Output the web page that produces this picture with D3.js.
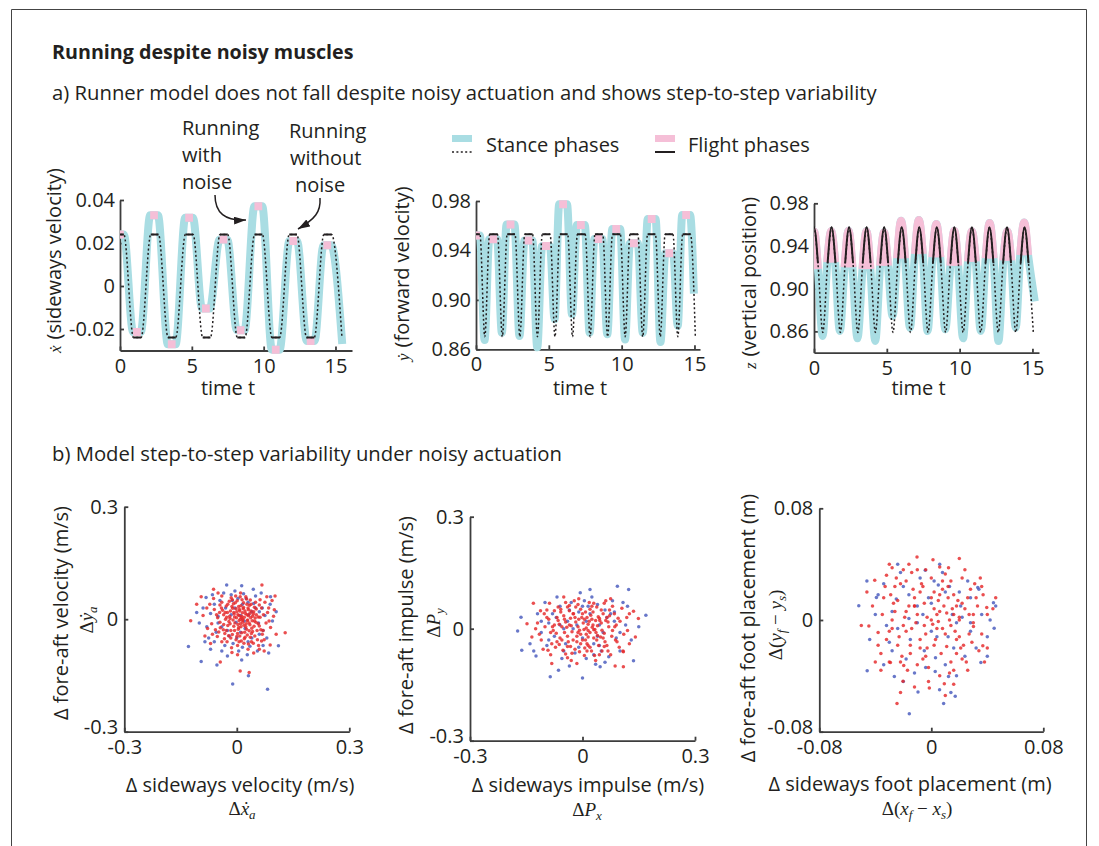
<!DOCTYPE html>
<html>
<head>
<meta charset="utf-8">
<script src="https://cdn.jsdelivr.net/npm/d3@7"></script>
<style>
  body { margin: 0; background: #fff; }
  svg text { font-family: "Open Sans", sans-serif; fill: #231f20; }
  .math { font-family: "Liberation Serif", "DejaVu Serif", serif; }
</style>
</head>
<body>
<svg id="fig" width="1099" height="846"></svg>
<script>
"use strict";

// ---- a) time series ----
// flight phase centres (time t)
const tFlightNoisy = [0, 1.18, 2.37, 3.6, 4.81, 5.98, 7.2, 8.4, 9.63, 10.84, 12.06, 13.27, 14.43];
const tFlightClean = [0, 1.205, 2.41, 3.615, 4.82, 6.025, 7.23, 8.435, 9.64, 10.845, 12.05, 13.255, 14.46];
const flightHalf = 0.27;   // half of a flight phase, in t

// sideways velocity x-dot (flight plateaus)
const xdNoisyFlight = [0.024, -0.0214, 0.0329, -0.0271, 0.0318, -0.0105, 0.0216, -0.0206, 0.0371, -0.0296, 0.0209, -0.0256, 0.0189];
const xdNoisyEnd = [15.47, -0.027];
const xdCleanFlight = [0.024, -0.024, 0.024, -0.024, 0.024, -0.024, 0.024, -0.024, 0.024, -0.024, 0.024, -0.024, 0.024];
const xdCleanEnd = [15.45, -0.024];

// forward velocity y-dot (flight plateaus, mid-stance minima)
const ydNoisyFlight = [0.952, 0.949, 0.961, 0.948, 0.9436, 0.9773, 0.9606, 0.9492, 0.9573, 0.9458, 0.9654, 0.9377, 0.9687];
const ydNoisyLow = [0.8675, 0.8735, 0.8708, 0.8616, 0.8843, 0.8883, 0.8734, 0.8721, 0.868, 0.8734, 0.8659, 0.8788];
const ydNoisyEnd = [14.96, 0.905];
const ydCleanFlight = [0.953, 0.953, 0.953, 0.953, 0.953, 0.953, 0.953, 0.953, 0.953, 0.953, 0.953, 0.953, 0.953];
const ydCleanLow = [0.8702, 0.8702, 0.8702, 0.8702, 0.8702, 0.8702, 0.8702, 0.8702, 0.8702, 0.8702, 0.8702, 0.8702];
const ydCleanEnd = [15.06, 0.8702];

// vertical position z (flight apex, take-off height, mid-stance minima)
const zNoisyPeak = [0.9538, 0.9538, 0.9543, 0.9538, 0.9528, 0.9637, 0.9643, 0.9606, 0.9543, 0.9538, 0.9615, 0.9538, 0.962];
const zNoisyBase = [0.9184, 0.9247, 0.92, 0.9184, 0.9215, 0.9284, 0.9325, 0.9294, 0.9215, 0.9253, 0.9284, 0.9262, 0.9315];
const zNoisyLow = [0.8556, 0.8603, 0.8535, 0.851, 0.8744, 0.8634, 0.8603, 0.8619, 0.8535, 0.8603, 0.851, 0.8634];
const zNoisyEnd = [15.16, 0.888];
const zCleanPeak = [0.9575, 0.9575, 0.9575, 0.9575, 0.9575, 0.9575, 0.9575, 0.9575, 0.9575, 0.9575, 0.9575, 0.9575, 0.9575];
const zCleanBase = [0.9238, 0.9238, 0.9238, 0.9238, 0.9238, 0.9238, 0.9238, 0.9238, 0.9238, 0.9238, 0.9238, 0.9238, 0.9238];
const zCleanLow = [0.859, 0.859, 0.859, 0.859, 0.859, 0.859, 0.859, 0.859, 0.859, 0.859, 0.859, 0.859];
const zCleanEnd = [15.06, 0.859];

const timeTicks = [0, 5, 10, 15];
const xdTicks = [-0.02, 0, 0.02, 0.04];
const xdTickLabels = ["-0.02", "0", "0.02", "0.04"];
const posTicks = [0.86, 0.90, 0.94, 0.98];
const posTickLabels = ["0.86", "0.90", "0.94", "0.98"];

// ---- b) step-to-step scatter ----
const velRed = [[0.012,0.004],[0.025,-0.012],[-0.008,0.018],[0.031,0.009],[-0.021,-0.006],[0.004,-0.027],[0.018,0.031],[-0.035,0.012],[0.046,-0.019],[0.009,0.000],[-0.012,-0.041],[0.038,0.022],[-0.028,0.035],[0.057,0.006],[0.001,0.049],[-0.044,-0.023],[0.022,-0.048],[0.015,0.017],[-0.005,-0.010],[0.033,-0.031],
  [0.064,-0.028],[-0.051,0.004],[0.007,0.026],[0.027,0.040],[-0.017,0.022],[0.041,-0.004],[-0.002,-0.055],[0.052,0.027],[-0.032,-0.038],[0.011,-0.020],[0.071,0.012],[-0.060,0.026],[0.019,-0.064],[-0.009,0.041],[0.036,0.051],[0.048,-0.045],[-0.024,-0.017],[0.003,0.012],[0.029,-0.002],[-0.040,0.045],
  [0.078,-0.010],[-0.015,0.057],[0.060,0.038],[-0.067,-0.012],[0.013,-0.036],[0.044,0.014],[-0.030,0.000],[0.024,0.060],[-0.006,-0.030],[0.055,-0.055],[0.085,0.030],[-0.052,-0.046],[0.005,0.034],[0.039,-0.060],[-0.019,0.008],[0.016,-0.008],[-0.038,0.024],[0.068,-0.040],[0.002,-0.070],[-0.026,-0.060],
  [0.090,-0.022],[-0.072,0.040],[0.031,0.025],[0.020,0.005],[-0.011,0.029],[0.047,0.032],[-0.046,0.018],[0.008,-0.045],[0.062,0.052],[-0.003,0.062],[0.035,-0.015],[-0.057,-0.028],[0.075,0.045],[0.026,-0.027],[-0.020,0.048],[0.051,-0.008],[-0.033,-0.052],[0.014,0.052],[0.042,-0.033],[-0.008,-0.019],
  [0.098,0.008],[-0.078,-0.025],[0.058,-0.070],[-0.040,0.062],[0.010,0.070],[0.030,-0.080],[-0.014,-0.076],[0.080,0.060],[-0.062,0.055],[0.066,-0.058],[-0.090,0.010],[0.105,-0.040],[-0.085,-0.045],[0.094,0.050],[0.000,0.020],[0.023,0.015],[0.006,-0.004],[-0.016,-0.030],[0.037,0.004],[0.017,0.028],
  [-0.123,-0.004],[0.129,-0.036],[0.102,0.062],[0.067,0.091],[0.009,-0.138],[0.033,-0.142],[-0.044,-0.114],[-0.062,0.080],[-0.107,0.040],[0.089,-0.069],[-0.013,-0.089],[0.045,-0.090],[-0.070,-0.065],[0.073,-0.085],[-0.095,0.060],
  [0.028,-0.042],[0.049,0.003],[-0.025,0.018],[0.012,-0.058],[0.060,-0.018],[-0.001,0.004],[0.019,-0.016],[0.034,0.037],[-0.045,-0.008],[0.003,-0.014],
  [0.015,-0.003],[0.027,0.012],[-0.006,0.006],[0.040,-0.024],[-0.018,-0.012],[0.008,0.022],[0.033,-0.010],[-0.027,0.005],[0.021,-0.035],[0.002,-0.038],[0.045,0.020],[-0.013,0.034],[0.054,-0.030],[-0.036,-0.028],[0.030,0.030],[0.010,-0.012],[-0.004,0.044],[0.062,0.005],[0.018,0.044],[-0.022,-0.044],
  [0.036,-0.048],[-0.041,0.030],[0.006,-0.060],[0.050,0.045],[-0.010,-0.002],[0.024,-0.020],[0.042,0.008],[-0.031,0.018],[0.013,0.008],[0.070,-0.030],[-0.048,-0.034],[0.026,0.054],[-0.002,0.028],[0.057,-0.012],[-0.016,-0.050],[0.035,0.016],[0.005,-0.022],[-0.054,0.012],[0.082,0.018],[0.020,-0.052],
  [-0.007,0.014],[0.031,-0.066],[0.047,-0.005],[-0.024,0.040],[0.066,0.030],[0.011,0.036],[-0.035,-0.014],[0.039,-0.038],[0.000,-0.046],[0.016,0.000],[-0.045,0.038],[0.073,-0.055],[0.028,-0.004],[-0.012,0.052],[0.052,0.012],[-0.028,-0.030],[0.009,0.060],[0.044,-0.064],[-0.065,-0.040],[0.086,-0.005],
  [0.022,0.022],[-0.018,0.002],[0.006,0.010],[0.038,0.040],[-0.040,-0.060],[0.060,-0.080],[-0.080,0.030],[0.002,-0.095],[0.100,0.025],[-0.050,0.070]];
const velBlue = [[-0.129,-0.073],[-0.095,-0.113],[-0.011,-0.173],[0.082,-0.187],[0.031,-0.151],[0.111,-0.071],[-0.053,-0.122],[0.013,-0.109],[-0.027,0.091],[-0.082,0.058],[-0.107,0.018],[0.089,0.040],[0.044,0.080],[0.013,0.089],
  [-0.030,0.030],[0.040,-0.050],[-0.055,-0.035],[0.060,0.020],[-0.010,-0.065],[0.025,0.055],[-0.045,0.050],[0.070,-0.030],[-0.070,0.015],[0.005,-0.085],[0.050,0.062],[-0.020,-0.045],[0.035,-0.072],[-0.060,-0.060],[0.080,-0.050],[-0.035,0.070],
  [0.015,0.040],[-0.080,-0.020],[0.055,-0.085],[-0.005,0.075],[0.095,-0.005],[-0.040,-0.085],[0.022,-0.025],[-0.015,0.012],[0.065,0.070],[-0.090,0.030],[0.045,0.042],[-0.050,0.008],[0.003,0.055],[0.028,-0.095],[-0.065,0.065],[0.075,0.010],[-0.025,-0.098],[0.010,-0.035],[-0.075,-0.050],[0.058,-0.010],
  [0.032,0.012],[-0.002,-0.008],[0.018,0.068],[-0.032,-0.070],[0.085,-0.090],[-0.100,-0.010],[0.068,0.030],[-0.012,0.050],
  [0.020,-0.005],[-0.040,-0.020],[0.050,0.030],[-0.005,0.030],[0.030,-0.060],[-0.060,0.040],[0.070,-0.070],[0.010,0.010],[-0.025,-0.030],[0.040,0.020],[-0.085,-0.060],[0.090,0.060],[0.000,-0.050],[-0.015,0.065],[0.060,-0.040],[-0.050,-0.010],[0.030,0.045],[-0.070,-0.080],[0.105,0.020],[0.015,-0.075]];

const impRed = [[-0.012,0.005],[0.020,-0.010],[-0.045,0.018],[0.035,0.022],[-0.070,-0.012],[0.008,-0.030],[0.052,-0.004],[-0.025,0.040],[0.065,0.030],[-0.090,0.025],[0.015,0.012],[-0.038,-0.035],[0.043,-0.045],[-0.058,0.045],[0.078,-0.020],[-0.005,0.052],[0.028,0.045],[-0.082,-0.040],[0.090,0.010],[-0.020,-0.055],
  [0.004,-0.002],[-0.030,0.008],[0.060,-0.035],[-0.100,0.005],[0.038,0.058],[-0.048,-0.010],[0.012,0.030],[0.072,0.050],[-0.065,0.058],[0.024,-0.060],[-0.015,-0.020],[0.050,0.015],[-0.110,-0.030],[0.098,-0.050],[-0.035,0.062],[0.005,-0.072],[0.085,0.040],[-0.075,0.010],[0.030,-0.025],[-0.052,-0.058],
  [0.018,0.070],[-0.095,0.050],[0.110,-0.015],[-0.010,0.025],[0.045,-0.070],[-0.040,-0.078],[0.068,-0.060],[-0.085,-0.070],[0.058,0.068],[-0.022,0.075],[0.002,0.015],[0.033,-0.002],[-0.060,-0.025],[0.080,-0.005],[-0.005,-0.040],[0.118,0.030],[-0.120,0.015],[0.015,-0.045],[-0.032,0.028],[0.055,0.040],
  [-0.068,0.030],[0.040,0.008],[-0.008,-0.062],[0.092,-0.035],[-0.045,0.070],[0.025,0.025],[-0.028,-0.008],[0.070,0.005],[-0.105,-0.055],[0.010,-0.015],[-0.055,0.005],[0.048,-0.022],[-0.018,0.058],[0.062,0.022],[-0.078,-0.005],[0.020,0.052],[-0.040,-0.048],[0.105,0.055],[-0.088,0.068],[0.035,-0.085],
  [-0.131,0.068],[-0.148,0.013],[0.149,0.027],[0.141,-0.022],[0.109,-0.062],[0.109,-0.102],[0.087,-0.100],[-0.082,-0.093],[-0.015,-0.093],[0.136,0.047],[-0.135,-0.022],[-0.112,0.048],[0.125,-0.040],[-0.050,0.085],[0.075,0.080],
  [0.000,0.040],[-0.025,-0.030],[0.015,-0.005],[0.042,0.032],[-0.062,-0.042],[0.028,0.010],[-0.012,-0.010],[0.058,-0.048],[-0.035,0.048],[0.006,-0.052],
  [-0.008,-0.004],[0.026,0.004],[-0.040,-0.020],[0.045,0.028],[-0.062,0.012],[0.012,-0.040],[0.058,-0.012],[-0.020,0.030],[0.072,0.035],[-0.085,-0.010],[0.005,0.025],[-0.032,-0.048],[0.038,-0.030],[-0.050,0.035],[0.088,-0.030],[-0.012,0.065],[0.022,0.036],[-0.072,-0.050],[0.100,0.020],[-0.028,-0.066],
  [0.010,0.002],[-0.042,0.004],[0.065,-0.045],[-0.095,0.030],[0.030,0.068],[-0.055,-0.030],[0.018,0.020],[0.080,0.060],[-0.075,0.048],[0.032,-0.072],[-0.005,-0.015],[0.046,0.022],[-0.115,-0.015],[0.108,-0.060],[-0.040,0.058],[0.012,-0.060],[0.095,0.028],[-0.065,0.022],[0.040,-0.018],[-0.045,-0.068],
  [0.025,0.060],[-0.102,0.040],[0.120,-0.005],[-0.018,0.018],[0.052,-0.060],[-0.030,-0.085],[0.075,-0.070],[-0.092,-0.058],[0.062,0.075],[-0.010,0.080],[-0.002,0.030],[0.036,-0.010],[-0.068,-0.035],[0.086,0.005],[0.000,-0.030],[0.125,0.040],[-0.125,0.000],[0.020,-0.050],[-0.024,0.040],[0.050,0.050],
  [-0.058,0.052],[0.015,-0.022],[-0.035,0.010],[0.068,0.018],[-0.080,0.005],[0.008,0.045],[0.055,-0.025],[-0.015,-0.035],[0.030,-0.003],[-0.048,0.025]];
const impBlue = [[-0.173,-0.006],[-0.162,-0.058],[-0.124,-0.073],[-0.086,-0.129],[0.000,-0.132],[0.047,-0.102],[0.136,-0.086],[0.169,0.036],[0.123,0.105],[0.093,0.114],[0.020,0.105],[-0.006,0.096],[-0.164,0.031],[0.108,0.070],[-0.064,-0.111],
  [-0.040,0.020],[0.030,-0.040],[-0.080,0.040],[0.060,0.050],[-0.020,-0.065],[0.090,-0.025],[-0.110,-0.010],[0.015,0.060],[-0.055,-0.080],[0.070,-0.075],[-0.030,0.070],[0.045,0.010],[-0.095,-0.045],[0.115,0.010],[0.000,-0.025],
  [-0.060,0.060],[0.080,0.075],[-0.120,0.040],[0.035,-0.095],[-0.010,0.045],[0.100,-0.060],[-0.075,-0.020],[0.055,-0.010],[-0.045,-0.040],[0.025,0.085],[-0.100,0.070],[0.130,-0.030],[-0.035,-0.100],[0.065,0.030],[-0.015,0.010],[0.085,0.045],[-0.140,-0.040],[0.010,-0.080],[-0.068,0.085],[0.050,-0.060],
  [0.150,0.005],[-0.050,0.000],[0.040,0.065],[-0.090,0.015],[0.005,0.075],
  [-0.025,0.000],[0.040,-0.020],[-0.070,0.030],[0.075,0.040],[-0.010,-0.050],[0.100,-0.010],[-0.090,-0.030],[0.020,0.040],[-0.050,-0.060],[0.060,-0.090],[-0.035,0.050],[0.010,0.020],[-0.110,0.020],[0.120,0.060],[0.030,-0.070],[-0.060,0.010],[0.085,0.020],[-0.130,-0.060],[0.000,0.060],[0.045,-0.045]];

const footRed = [[-0.003,0.002],[0.008,-0.006],[-0.012,0.010],[0.015,0.008],[-0.020,-0.004],[0.003,-0.014],[0.020,-0.012],[-0.008,0.020],[0.026,0.016],[-0.027,0.012],[0.006,0.006],[-0.015,-0.018],[0.012,0.024],[-0.022,0.026],[0.030,-0.002],[0.000,0.030],[0.018,-0.024],[-0.032,-0.014],[0.033,0.010],[-0.006,-0.028],
  [0.001,-0.003],[-0.010,0.004],[0.023,-0.018],[-0.035,0.004],[0.010,0.033],[-0.018,-0.008],[0.005,0.014],[0.028,0.022],[-0.025,0.030],[0.014,-0.030],[-0.004,-0.010],[0.020,0.002],[-0.038,-0.018],[0.036,-0.010],[-0.014,0.034],[-0.002,-0.034],[0.031,0.026],[-0.029,0.018],[0.011,-0.019],[-0.021,-0.026],
  [0.006,0.038],[-0.033,0.024],[0.040,0.004],[-0.005,0.012],[0.016,-0.036],[-0.017,-0.036],[0.025,-0.030],[-0.030,-0.030],[0.022,0.030],[-0.010,0.036],[0.002,0.008],[0.013,0.000],[-0.023,-0.012],[0.029,-0.016],[-0.003,-0.020],[0.037,0.018],[-0.042,0.010],[0.007,-0.024],[-0.012,0.016],[0.019,0.014],
  [-0.026,0.006],[0.016,0.004],[-0.004,-0.026],[0.034,-0.022],[-0.018,0.028],[0.009,0.010],[-0.011,-0.002],[0.024,0.008],[-0.036,-0.024],[0.004,-0.006],[-0.019,0.002],[0.017,-0.008],[-0.007,0.026],[0.022,0.012],[-0.028,-0.006],[0.008,0.022],[-0.015,-0.024],[0.035,0.030],[-0.032,0.032],[0.013,-0.038],
  [-0.0404,0.0285],[0.0012,0.0432],[-0.0102,0.0451],[-0.028,0.0375],[0.0123,0.0375],[-0.0446,-0.0043],[-0.0245,-0.0598],[-0.0014,-0.0487],[0.0093,-0.0456],[0.0396,0.009],[0.0368,-0.0185],[-0.038,-0.009],[-0.0292,-0.0304],[-0.0202,-0.0439],[-0.0197,-0.0325],[0.0301,-0.0047],
  [0.000,0.016],[-0.008,-0.014],[0.005,-0.001],[0.016,0.018],[-0.024,-0.018],[0.011,0.005],[-0.005,-0.004],[0.021,-0.020],[-0.013,0.022],[0.002,-0.018],[-0.016,0.010],[0.027,0.004],
  [0.004,0.004],[-0.014,-0.006],[0.018,0.010],[-0.024,0.014],[0.010,-0.010],[-0.006,0.024],[0.027,-0.010],[-0.030,-0.008],[0.014,0.028],[-0.010,-0.032],[0.032,0.016],[-0.020,0.036],[0.006,-0.040],[0.022,-0.028],[-0.034,0.016],[0.000,0.000],[0.040,-0.020],[-0.040,-0.030],[0.024,0.036],[-0.016,0.040],
  [0.012,0.016],[-0.008,-0.020],[0.018,-0.014],[-0.028,0.000],[0.006,0.018],[0.030,0.004],[-0.022,-0.030],[0.036,0.024],[-0.002,-0.044],[-0.026,0.024],[0.044,0.008],[-0.046,0.020],[0.020,0.044],[-0.012,-0.048],[0.016,-0.046],[-0.036,-0.036],[0.008,0.028],[-0.018,0.006],[0.026,-0.036],[0.002,0.020],
  [-0.030,0.040],[0.038,-0.030],[-0.050,-0.004],[0.010,-0.054],[-0.022,-0.052],[0.046,0.016],[-0.004,0.036],[0.020,0.000],[-0.012,0.010],[0.014,-0.004]];
const footBlue = [[-0.0518,0.0102],[-0.0458,-0.0363],[-0.0157,-0.0672],[-0.0095,-0.0515],[0.0059,-0.0499],[0.0171,-0.0546],[0.0088,-0.0598],[0.0444,0.0123],[0.0449,-0.0059],[0.0354,-0.0304],[0.0332,0.0233],[-0.0043,0.0356],[0.0123,-0.0404],[-0.0392,0.0161],[-0.0264,-0.0404],[0.0028,-0.0368],
  [-0.010,0.010],[0.012,-0.012],[-0.025,0.015],[0.020,0.020],[-0.005,-0.022],[0.028,-0.008],[-0.032,-0.004],[0.005,0.025],[-0.018,-0.028],[0.024,-0.026],[-0.008,0.030],[0.015,0.004],[-0.030,-0.016],[0.036,0.004],[0.000,-0.008],
  [-0.020,0.024],[0.026,0.028],[-0.038,0.018],[0.010,-0.032],[-0.002,0.016],[0.032,-0.020],[-0.024,-0.006],[0.018,-0.002],[-0.015,-0.014],[0.008,0.034],[-0.034,0.026],[0.040,-0.012],[-0.012,-0.038],[0.021,0.010],[-0.006,0.004],[0.028,0.016],[-0.044,-0.014],[0.003,-0.027],[-0.022,0.034],[0.016,-0.020],
  [0.042,0.000],[-0.016,0.001],[0.013,0.024],[-0.028,0.006],[0.002,0.028],
  [0.004,-0.012],[-0.016,0.018],[0.022,0.002],[-0.028,-0.022],[0.010,0.020],[-0.004,-0.034],[0.034,0.022],[-0.040,0.004],[0.018,-0.040],[-0.024,0.040],[0.040,-0.026],[-0.010,-0.002],[0.006,0.040],[-0.034,-0.032],[0.028,-0.002],[-0.020,-0.044],[0.046,0.010],[0.000,0.012],[-0.046,0.028],[0.014,-0.052]];

const velTicks = [-0.3, 0, 0.3];
const velTickLabels = ["-0.3", "0", "0.3"];
const footTicks = [-0.08, 0, 0.08];
const footTickLabels = ["-0.08", "0", "0.08"];

// ---- drawing ----
const INK = "#231f20";
const AXIS = "#3d3d3d";
const CYAN = "#a9dde3";
const PINK = "#f5bfd7";
const RED = "#e5282a";
const BLUE = "#4e5fc0";

let svg = d3.select("#fig");
let defs = svg.append("defs");

// figure frame
svg.append("path")
   .attr("d", "M11.5,846 V9.5 H1086.5 V846")
   .attr("fill", "none").attr("stroke", "#444").attr("stroke-width", 1);

svg.append("text").attr("x", 52).attr("y", 59)
   .attr("font-size", 19.7).attr("font-weight", 700)
   .text("Running despite noisy muscles");
svg.append("text").attr("x", 52).attr("y", 100).attr("font-size", 20.3)
   .text("a) Runner model does not fall despite noisy actuation and shows step-to-step variability");
svg.append("text").attr("x", 52).attr("y", 461).attr("font-size", 20.3)
   .text("b) Model step-to-step variability under noisy actuation");

// whole trajectory: flight plateaus / arcs joined through mid-stance extremes
function track(tF, top, base, low, end)
{
    let pts = [];
    tF.forEach((tc, k) =>
    {
        if (base)
            pts.push([tc - flightHalf, base[k]], [tc, top[k]], [tc + flightHalf, base[k]]);
        else
            pts.push([tc - flightHalf, top[k]], [tc + flightHalf, top[k]]);
        if (low && k < low.length)
            pts.push([(tc + tF[k + 1]) / 2, low[k]]);
    });
    pts.push(end);
    return pts;
}

function flights(tF, top, base)
{
    return tF.map((tc, k) => base
        ? [[tc - flightHalf, base[k]], [tc, top[k]], [tc + flightHalf, base[k]]]
        : [[tc - flightHalf, top[k]], [tc + flightHalf, top[k]]]);
}

function styleAxis(sel)
{
    sel.attr("font-size", 20).attr("font-family", "Open Sans");
    sel.select(".domain").attr("stroke", AXIS).attr("stroke-width", 1.8);
    sel.selectAll(".tick line").attr("stroke", AXIS).attr("stroke-width", 1.8);
    sel.selectAll(".tick text").attr("fill", INK);
}

function timePanel(p)
{
    let x = d3.scaleLinear().domain(p.xDomain).range(p.xRange);
    let y = d3.scaleLinear().domain(p.yDomain).range(p.yRange);
    let g = svg.append("g");

    defs.append("clipPath").attr("id", p.id)
        .append("rect")
        .attr("x", x(0)).attr("y", p.yRange[1] - 40)
        .attr("width", 400).attr("height", p.yRange[0] - p.yRange[1] + 80);

    g.append("g").attr("transform", "translate(0," + p.yRange[0] + ")")
     .call(d3.axisBottom(x).tickValues(timeTicks).tickFormat(d3.format("d"))
             .tickSize(-4).tickSizeOuter(0).tickPadding(8))
     .call(styleAxis);
    g.append("g").attr("transform", "translate(" + p.xRange[0] + ",0)")
     .call(d3.axisLeft(y).tickValues(p.yTicks).tickFormat((d, i) => p.yLabels[i])
             .tickSize(-4).tickSizeOuter(0).tickPadding(5))
     .call(styleAxis);

    let line = d3.line().x(d => x(d[0])).y(d => y(d[1])).curve(d3.curveMonotoneX);
    let plot = g.append("g").attr("clip-path", "url(#" + p.id + ")");

    plot.append("path").attr("d", line(p.noisy))
        .attr("fill", "none").attr("stroke", CYAN).attr("stroke-width", 8)
        .attr("stroke-linejoin", "round");
    plot.selectAll(".nf").data(p.noisyFlights).join("path")
        .attr("d", line)
        .attr("fill", "none").attr("stroke", PINK).attr("stroke-width", 8);
    plot.append("path").attr("d", line(p.clean))
        .attr("fill", "none").attr("stroke", INK).attr("stroke-width", 1.5)
        .attr("stroke-dasharray", "2,2.4");
    plot.selectAll(".cf").data(p.cleanFlights).join("path")
        .attr("d", line)
        .attr("fill", "none").attr("stroke", INK).attr("stroke-width", 2);

    svg.append("text").attr("x", (p.xRange[0] + p.xRange[1]) / 2 - 8).attr("y", 395)
       .attr("text-anchor", "middle").attr("font-size", 20).text("time t");

    let lab = svg.append("text")
        .attr("transform", "translate(" + p.labelX + "," + p.labelY + ") rotate(-90)")
        .attr("font-size", 20);
    lab.append("tspan").attr("class", "math").attr("font-style", "italic")
       .attr("font-size", 17).text(p.sym);
    lab.append("tspan").attr("dx", 6).text("(" + p.name + ")");
}

timePanel({
    id: "cxd", xDomain: [0, 16.15], xRange: [120, 352],
    yDomain: [-0.03, 0.04], yRange: [350.5, 200],
    yTicks: xdTicks, yLabels: xdTickLabels,
    noisy: track(tFlightNoisy, xdNoisyFlight, null, null, xdNoisyEnd),
    noisyFlights: flights(tFlightNoisy, xdNoisyFlight, null),
    clean: track(tFlightClean, xdCleanFlight, null, null, xdCleanEnd),
    cleanFlights: flights(tFlightClean, xdCleanFlight, null),
    labelX: 61, labelY: 353, sym: "\u1E8B", name: "sideways velocity"
});
timePanel({
    id: "cyd", xDomain: [0, 15.38], xRange: [476, 700],
    yDomain: [0.86, 0.98], yRange: [349.3, 201],
    yTicks: posTicks, yLabels: posTickLabels,
    noisy: track(tFlightNoisy, ydNoisyFlight, null, ydNoisyLow, ydNoisyEnd),
    noisyFlights: flights(tFlightNoisy, ydNoisyFlight, null),
    clean: track(tFlightClean, ydCleanFlight, null, ydCleanLow, ydCleanEnd),
    cleanFlights: flights(tFlightClean, ydCleanFlight, null),
    labelX: 409, labelY: 361, sym: "\u1E8F", name: "forward velocity"
});
timePanel({
    id: "cz", xDomain: [0, 15.45], xRange: [814, 1039],
    yDomain: [0.84, 0.98], yRange: [352.7, 203.3],
    yTicks: posTicks, yLabels: posTickLabels,
    noisy: track(tFlightNoisy, zNoisyPeak, zNoisyBase, zNoisyLow, zNoisyEnd),
    noisyFlights: flights(tFlightNoisy, zNoisyPeak, zNoisyBase),
    clean: track(tFlightClean, zCleanPeak, zCleanBase, zCleanLow, zCleanEnd),
    cleanFlights: flights(tFlightClean, zCleanPeak, zCleanBase),
    labelX: 756, labelY: 369, sym: "z", name: "vertical position"
});

// legend
svg.append("rect").attr("x", 452).attr("y", 135).attr("width", 20).attr("height", 7).attr("fill", CYAN);
svg.append("line").attr("x1", 452).attr("x2", 472).attr("y1", 152).attr("y2", 152)
   .attr("stroke", INK).attr("stroke-width", 1.5).attr("stroke-dasharray", "2,2.4");
svg.append("text").attr("x", 486).attr("y", 152).attr("font-size", 20).text("Stance phases");
svg.append("rect").attr("x", 655).attr("y", 135).attr("width", 20).attr("height", 7).attr("fill", PINK);
svg.append("line").attr("x1", 655).attr("x2", 675).attr("y1", 152).attr("y2", 152)
   .attr("stroke", INK).attr("stroke-width", 2);
svg.append("text").attr("x", 688).attr("y", 152).attr("font-size", 20).text("Flight phases");

// annotations
defs.append("marker").attr("id", "head")
    .attr("viewBox", "0 0 12 8").attr("refX", 12).attr("refY", 4)
    .attr("markerWidth", 12).attr("markerHeight", 8)
    .attr("markerUnits", "userSpaceOnUse").attr("orient", "auto")
    .append("path").attr("d", "M0,0 L12,4 L0,8 Z").attr("fill", INK);

[["Running", 182, 135], ["with", 182, 162], ["noise", 182, 189],
 ["Running", 289, 138], ["without", 290, 165], ["noise", 295, 192]].forEach(d =>
{
    svg.append("text").attr("x", d[1]).attr("y", d[2]).attr("font-size", 20).text(d[0]);
});
svg.append("path").attr("d", "M215,195 C215,213 225,221 246,220")
   .attr("fill", "none").attr("stroke", INK).attr("stroke-width", 1.5).attr("marker-end", "url(#head)");
svg.append("path").attr("d", "M320,198 C321,212 315,219 298,229")
   .attr("fill", "none").attr("stroke", INK).attr("stroke-width", 1.5).attr("marker-end", "url(#head)");

// scatter panels
function scatterPanel(p)
{
    let x = d3.scaleLinear().domain(p.domain).range(p.xRange);
    let y = d3.scaleLinear().domain(p.domain).range(p.yRange);
    let g = svg.append("g");

    g.append("g").attr("transform", "translate(0," + p.yRange[0] + ")")
     .call(d3.axisBottom(x).tickValues(p.ticks).tickFormat((d, i) => p.labels[i])
             .tickSize(-4).tickSizeOuter(0).tickPadding(8))
     .call(styleAxis);
    let yAxis = g.append("g").attr("transform", "translate(" + p.xRange[0] + ",0)")
     .call(d3.axisLeft(y).tickValues(p.ticks).tickFormat((d, i) => p.labels[i])
             .tickSize(-4).tickSizeOuter(0).tickPadding(6))
     .call(styleAxis);
    // lowest y label sits just above the x labels
    yAxis.selectAll(".tick text").filter(d => d === p.ticks[0]).attr("dy", "0.1em");

    g.selectAll(".b").data(p.blue).join("circle")
     .attr("cx", d => x(d[0])).attr("cy", d => y(d[1])).attr("r", 1.75)
     .attr("fill", BLUE).attr("fill-opacity", 0.85);
    g.selectAll(".r").data(p.red).join("circle")
     .attr("cx", d => x(d[0])).attr("cy", d => y(d[1])).attr("r", 1.75)
     .attr("fill", RED).attr("fill-opacity", 0.82);

    svg.append("text").attr("x", p.xLab[0]).attr("y", p.xLab[1])
       .attr("text-anchor", "middle").attr("font-size", 20).text(p.xName);
    svg.append("text")
       .attr("transform", "translate(" + p.yLab[0] + "," + p.yLab[1] + ") rotate(-90)")
       .attr("text-anchor", "middle").attr("font-size", 20).text(p.yName);

    mathLabel(svg.append("text").attr("x", p.xMath[0]).attr("y", p.xMath[1]), p.xSym);
    mathLabel(svg.append("text")
       .attr("transform", "translate(" + p.yMath[0] + "," + p.yMath[1] + ") rotate(-90)"), p.ySym);
}

// parts: [text, italic, subscript]
function mathLabel(t, parts)
{
    t.attr("class", "math").attr("text-anchor", "middle").attr("font-size", 19);
    let shift = 0;
    parts.forEach(q =>
    {
        let dy = q[2] ? 4 - shift : -shift;
        shift = q[2] ? 4 : 0;
        t.append("tspan").attr("dy", dy)
         .attr("font-style", q[1] ? "italic" : "normal")
         .attr("font-size", q[2] ? 13 : 19).text(q[0]);
    });
}

scatterPanel({
    domain: [-0.3, 0.3], xRange: [124.3, 349.3], yRange: [731.7, 506.7],
    ticks: velTicks, labels: velTickLabels, red: velRed, blue: velBlue,
    xName: "\u0394 sideways velocity (m/s)", xLab: [240, 792],
    yName: "\u0394 fore-aft velocity (m/s)", yLab: [68, 613],
    xSym: [["\u0394", 0, 0], ["\u1E8B", 1, 0], ["a", 1, 1]], xMath: [242, 815],
    ySym: [["\u0394", 0, 0], ["\u1E8F", 1, 0], ["a", 1, 1]], yMath: [93, 620]
});
scatterPanel({
    domain: [-0.3, 0.3], xRange: [470, 695], yRange: [740.7, 516.7],
    ticks: velTicks, labels: velTickLabels, red: impRed, blue: impBlue,
    xName: "\u0394 sideways impulse (m/s)", xLab: [588, 792],
    yName: "\u0394 fore-aft impulse (m/s)", yLab: [413, 625],
    xSym: [["\u0394", 0, 0], ["P", 1, 0], ["x", 1, 1]], xMath: [587, 816],
    ySym: [["\u0394", 0, 0], ["P", 1, 0], ["y", 1, 1]], yMath: [440, 623]
});
scatterPanel({
    domain: [-0.08, 0.08], xRange: [819.3, 1043.3], yRange: [731.7, 508.3],
    ticks: footTicks, labels: footTickLabels, red: footRed, blue: footBlue,
    xName: "\u0394 sideways foot placement (m)", xLab: [910, 791],
    yName: "\u0394 fore-aft foot placement (m)", yLab: [755, 628],
    xSym: [["\u0394(", 0, 0], ["x", 1, 0], ["f", 1, 1], [" \u2212 ", 0, 0], ["x", 1, 0], ["s", 1, 1], [")", 0, 0]], xMath: [917, 815],
    ySym: [["\u0394(", 0, 0], ["y", 1, 0], ["f", 1, 1], [" \u2212 ", 0, 0], ["y", 1, 0], ["s", 1, 1], [")", 0, 0]], yMath: [782, 625]
});
</script>
</body>
</html>
